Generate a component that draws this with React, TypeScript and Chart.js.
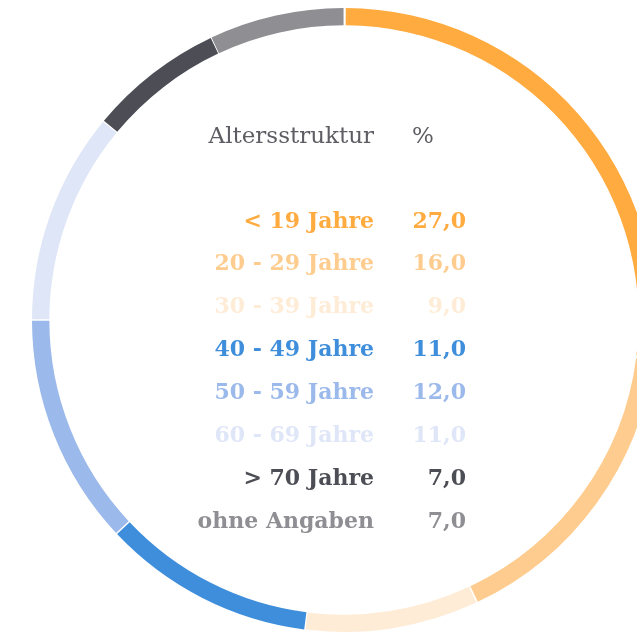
import React, { useEffect, useRef } from "react";
import { Chart, registerables } from "chart.js";

Chart.register(...registerables);

const title = "Altersstruktur";
const unitLabel = "%";
const categories = [
  "< 19 Jahre",
  "20 - 29 Jahre",
  "30 - 39 Jahre",
  "40 - 49 Jahre",
  "50 - 59 Jahre",
  "60 - 69 Jahre",
  "> 70 Jahre",
  "ohne Angaben",
];
const values = [27, 16, 9, 11, 12, 11, 7, 7];
const colors = [
  "#FFAB40",
  "#FFCC8F",
  "#FFECD6",
  "#3F8EDB",
  "#9BB9EA",
  "#DFE6F7",
  "#4D4E55",
  "#8E8E93",
];

const fmt = (v: number) => v.toFixed(1).replace(".", ",");

export default function App() {
  const ref = useRef<HTMLCanvasElement | null>(null);

  useEffect(() => {
    if (!ref.current) return;
    const chart = new Chart(ref.current, {
      type: "doughnut",
      data: {
        labels: categories,
        datasets: [
          {
            data: values,
            backgroundColor: colors,
            borderWidth: 0,
            spacing: 4,
          },
        ],
      },
      options: {
        responsive: false,
        animation: false,
        cutout: "94.4%",
        rotation: 0,
        layout: { padding: 8 },
        plugins: {
          legend: { display: false },
          tooltip: { enabled: false },
        },
      },
    });
    return () => chart.destroy();
  }, []);

  const font = '"DejaVu Serif", "Liberation Serif", serif';
  const rowTop0 = 198.5;
  const rowStep = 42.9;

  return (
    <div
      style={{
        position: "absolute",
        left: 0,
        top: 0,
        width: 637,
        height: 636,
        overflow: "hidden",
        background: "#ffffff",
      }}
    >
      <canvas
        ref={ref}
        width={688}
        height={640}
        style={{ position: "absolute", left: 0, top: 0, width: 688, height: 640 }}
      />
      <div
        style={{
          position: "absolute",
          right: 637 - 374,
          top: 118.5,
          fontFamily: font,
          fontSize: 23,
          lineHeight: "32px",
          color: "#5d5d63",
          whiteSpace: "nowrap",
        }}
      >
        {title}
      </div>
      <div
        style={{
          position: "absolute",
          left: 412,
          top: 118.5,
          fontFamily: font,
          fontSize: 23,
          lineHeight: "32px",
          color: "#5d5d63",
          whiteSpace: "nowrap",
        }}
      >
        {unitLabel}
      </div>
      {categories.map((c, i) => (
        <React.Fragment key={c}>
          <div
            style={{
              position: "absolute",
              right: 637 - 374,
              top: rowTop0 + i * rowStep,
              fontFamily: font,
              fontWeight: "bold",
              fontSize: 22,
              lineHeight: "42px",
              color: colors[i],
              whiteSpace: "nowrap",
            }}
          >
            {c}
          </div>
          <div
            style={{
              position: "absolute",
              right: 637 - 466,
              top: rowTop0 + i * rowStep,
              fontFamily: font,
              fontWeight: "bold",
              fontSize: 22,
              lineHeight: "42px",
              color: colors[i],
              whiteSpace: "nowrap",
            }}
          >
            {fmt(values[i])}
          </div>
        </React.Fragment>
      ))}
    </div>
  );
}
